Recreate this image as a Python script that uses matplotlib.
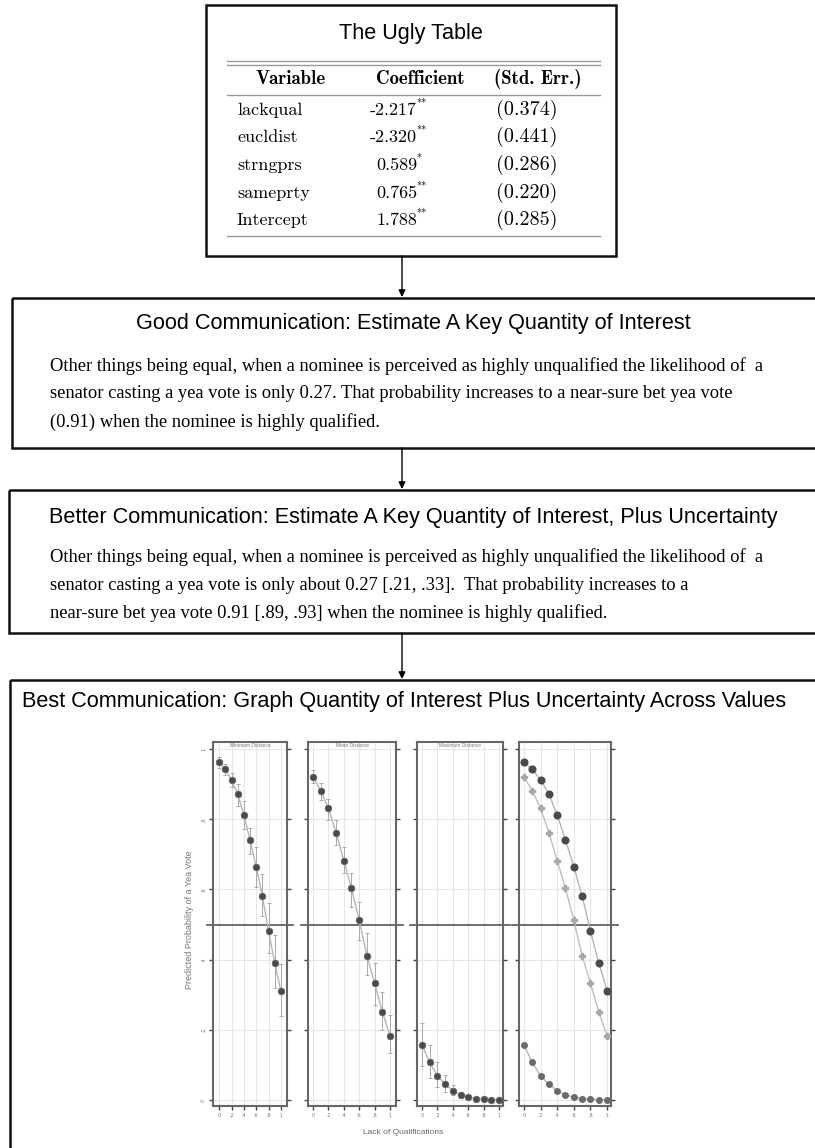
import matplotlib
matplotlib.use("Agg")
import matplotlib.pyplot as plt
from matplotlib.patches import Rectangle

# --- adatok ---
table_title = "The Ugly Table"
table_header = ["Variable", "Coefficient", "(Std. Err.)"]
table_vars = ["lackqual", "eucldist", "strngprs", "sameprty", "Intercept"]
table_coef = ["-2.217", "-2.320", "0.589", "0.765", "1.788"]
table_stars = ["**", "**", "*", "**", "**"]
table_se = ["(0.374)", "(0.441)", "(0.286)", "(0.220)", "(0.285)"]

good_title = "Good Communication: Estimate A Key Quantity of Interest"
good_lines = [
    "Other things being equal, when a nominee is perceived as highly unqualified the likelihood of  a",
    "senator casting a yea vote is only 0.27. That probability increases to a near-sure bet yea vote",
    "(0.91) when the nominee is highly qualified.",
]
better_title = "Better Communication: Estimate A Key Quantity of Interest, Plus Uncertainty"
better_lines = [
    "Other things being equal, when a nominee is perceived as highly unqualified the likelihood of  a",
    "senator casting a yea vote is only about 0.27 [.21, .33].  That probability increases to a",
    "near-sure bet yea vote 0.91 [.89, .93] when the nominee is highly qualified.",
]
best_title = "Best Communication: Graph Quantity of Interest Plus Uncertainty Across Values"

lack_qual = [0.0, 0.1, 0.2, 0.3, 0.4, 0.5, 0.6, 0.7, 0.8, 0.9, 1.0]
p_min = [0.962, 0.942, 0.912, 0.872, 0.812, 0.741, 0.665, 0.582, 0.482, 0.391, 0.312]
lo_min = [0.947, 0.927, 0.892, 0.838, 0.772, 0.700, 0.607, 0.525, 0.419, 0.320, 0.239]
hi_min = [0.977, 0.958, 0.932, 0.900, 0.852, 0.775, 0.720, 0.645, 0.560, 0.470, 0.387]
p_mean = [0.921, 0.881, 0.831, 0.762, 0.682, 0.603, 0.513, 0.411, 0.333, 0.252, 0.183]
lo_mean = [0.903, 0.855, 0.798, 0.726, 0.647, 0.550, 0.456, 0.356, 0.270, 0.200, 0.134]
hi_mean = [0.940, 0.903, 0.858, 0.798, 0.720, 0.647, 0.564, 0.475, 0.390, 0.308, 0.242]
p_max = [0.157, 0.107, 0.069, 0.045, 0.027, 0.014, 0.008, 0.004, 0.002, 0.001, 0.001]
lo_max = [0.097, 0.063, 0.037, 0.023, 0.014, 0.006, 0.003, 0.001, 0.000, 0.000, 0.000]
hi_max = [0.220, 0.157, 0.108, 0.070, 0.043, 0.024, 0.014, 0.008, 0.004, 0.003, 0.002]

panel_titles = ["Minimum Distance", "Mean Distance", "Maximum Distance", ""]
tick_vals = [0, 0.2, 0.4, 0.6, 0.8, 1]
tick_labels = ["0", ".2", ".4", ".6", ".8", "1"]

W, H = 815, 1148
fig = plt.figure(figsize=(W / 100, H / 100), dpi=100)

# háttér tengely pixel koordinátákkal
bg = fig.add_axes([0, 0, 1, 1])
bg.set_xlim(0, W)
bg.set_ylim(H, 0)
bg.axis("off")

sans = "Liberation Sans"
serif = "Liberation Serif"
title_fs = 15.6

# dobozok
for (x0, y0, x1, y1) in [(206, 5, 616, 256), (12, 298, 822, 448),
                         (9, 490, 822, 633), (10, 680, 822, 1160)]:
    bg.add_patch(Rectangle((x0, y0), x1 - x0, y1 - y0, fill=False,
                           edgecolor="#111111", linewidth=1.8))

# nyilak
for (ya, yb) in [(256, 298), (448, 490), (633, 680)]:
    bg.annotate("", xy=(402, yb - 1), xytext=(402, ya),
                arrowprops=dict(arrowstyle="-|>", color="black", lw=1.0,
                                mutation_scale=10, shrinkA=0, shrinkB=0))

# csúnya táblázat
bg.text(411, 33, table_title, ha="center", va="center", fontsize=title_fs, family=sans)
for yy in [61, 65, 95, 236]:
    bg.plot([227, 600], [yy, yy], color="#999999", lw=1.0)
hx = [291, 420, 538]
for x, t in zip(hx, table_header):
    bg.text(x, 79, t, ha="center", va="center", fontsize=13.5, family="cmb10")
row_y = [110, 137, 165, 193, 220]
for y, v, c, s, e in zip(row_y, table_vars, table_coef, table_stars, table_se):
    bg.text(237, y, v, ha="left", va="center", fontsize=13, family="cmr10")
    bg.text(417, y, c, ha="right", va="center", fontsize=13, family="cmr10")
    bg.text(416, y - 5, s, ha="left", va="center", fontsize=7.5, family="cmr10")
    bg.text(527, y, e, ha="center", va="center", fontsize=14.5, family="cmr10")

# jó kommunikáció
bg.text(413, 323, good_title, ha="center", va="center", fontsize=title_fs, family=sans)
for i, line in enumerate(good_lines):
    bg.text(50, 366 + i * 28, line, ha="left", va="center", fontsize=13.3, family=serif)

# jobb kommunikáció
bg.text(413, 517, better_title, ha="center", va="center", fontsize=title_fs, family=sans)
for i, line in enumerate(better_lines):
    bg.text(50, 557 + i * 28, line, ha="left", va="center", fontsize=13.3, family=serif)

# legjobb kommunikáció
bg.text(22, 702, best_title, ha="left", va="center", fontsize=title_fs, family=sans)

# panelek
boxes = [(213, 287, -0.1, 1.1), (308, 396, -0.065, 1.078),
         (417, 503, -0.065, 1.052), (519, 611, -0.06, 1.048)]
y_top, y_bot = 742, 1106
series = [(p_min, lo_min, hi_min), (p_mean, lo_mean, hi_mean), (p_max, lo_max, hi_max)]

axes = []
for k, (x0, x1, xl, xr) in enumerate(boxes):
    ax = fig.add_axes([x0 / W, 1 - y_bot / H, (x1 - x0) / W, (y_bot - y_top) / H])
    ax.set_xlim(xl, xr)
    ax.set_ylim(-0.017, 1.02)
    ax.set_xticks(tick_vals)
    ax.set_xticklabels(tick_labels, fontsize=3.5, color="#777777")
    ax.set_yticks(tick_vals)
    if k == 0:
        ax.set_yticklabels(tick_labels, fontsize=3.5, color="#777777", rotation=90, va="center")
    else:
        ax.set_yticklabels([])
    ax.tick_params(axis="both", direction="out", length=3, width=1, color="#444444", pad=2)
    ax.tick_params(axis="y", right=True)
    ax.grid(True, color="#e6e6e6", lw=0.8)
    ax.set_axisbelow(True)
    for sp in ax.spines.values():
        sp.set_color("#666666")
        sp.set_linewidth(1.5)
    ax.axhline(0.5, xmin=-0.08, xmax=1.08, color="#555555", lw=1.2, clip_on=False, zorder=2)
    if panel_titles[k]:
        ax.text(0.5, 0.997, panel_titles[k], transform=ax.transAxes, ha="center", va="top",
                fontsize=3.5, color="#777777", family=sans)
    axes.append(ax)

for k in range(3):
    p, lo, hi = series[k]
    ax = axes[k]
    yerr = [[a - b for a, b in zip(p, lo)], [b - a for a, b in zip(p, hi)]]
    ax.errorbar(lack_qual, p, yerr=yerr, fmt="none", ecolor="#aaaaaa", elinewidth=0.7,
                capsize=1.5, capthick=0.7, zorder=3)
    ax.plot(lack_qual, p, color="#b5b5b5", lw=1.0, zorder=3)
    ax.plot(lack_qual, p, "o", color="#4a4a4a", ms=4.8, mec="#666666", mew=0.5, zorder=4)

ax = axes[3]
ax.plot(lack_qual, p_min, color="#b5b5b5", lw=1.0, zorder=3)
ax.plot(lack_qual, p_min, "o", color="#4a4a4a", ms=4.8, zorder=4)
ax.plot(lack_qual, p_mean, color="#c0c0c0", lw=1.0, zorder=3)
ax.plot(lack_qual, p_mean, "P", color="#a8a8a8", ms=4.0, zorder=4)
ax.plot(lack_qual, p_max, color="#b5b5b5", lw=1.0, zorder=3)
ax.plot(lack_qual, p_max, "o", color="#6a6a6a", ms=4.0, zorder=4)

bg.text(190, 920, "Predicted Probability of a Yea Vote", rotation=90, ha="center", va="center",
        fontsize=6.5, color="#777777", family=sans)
bg.text(403, 1133, "Lack of Qualifications", ha="center", va="center",
        fontsize=6, color="#666666", family=sans)

fig.savefig("out.png", dpi=100)
